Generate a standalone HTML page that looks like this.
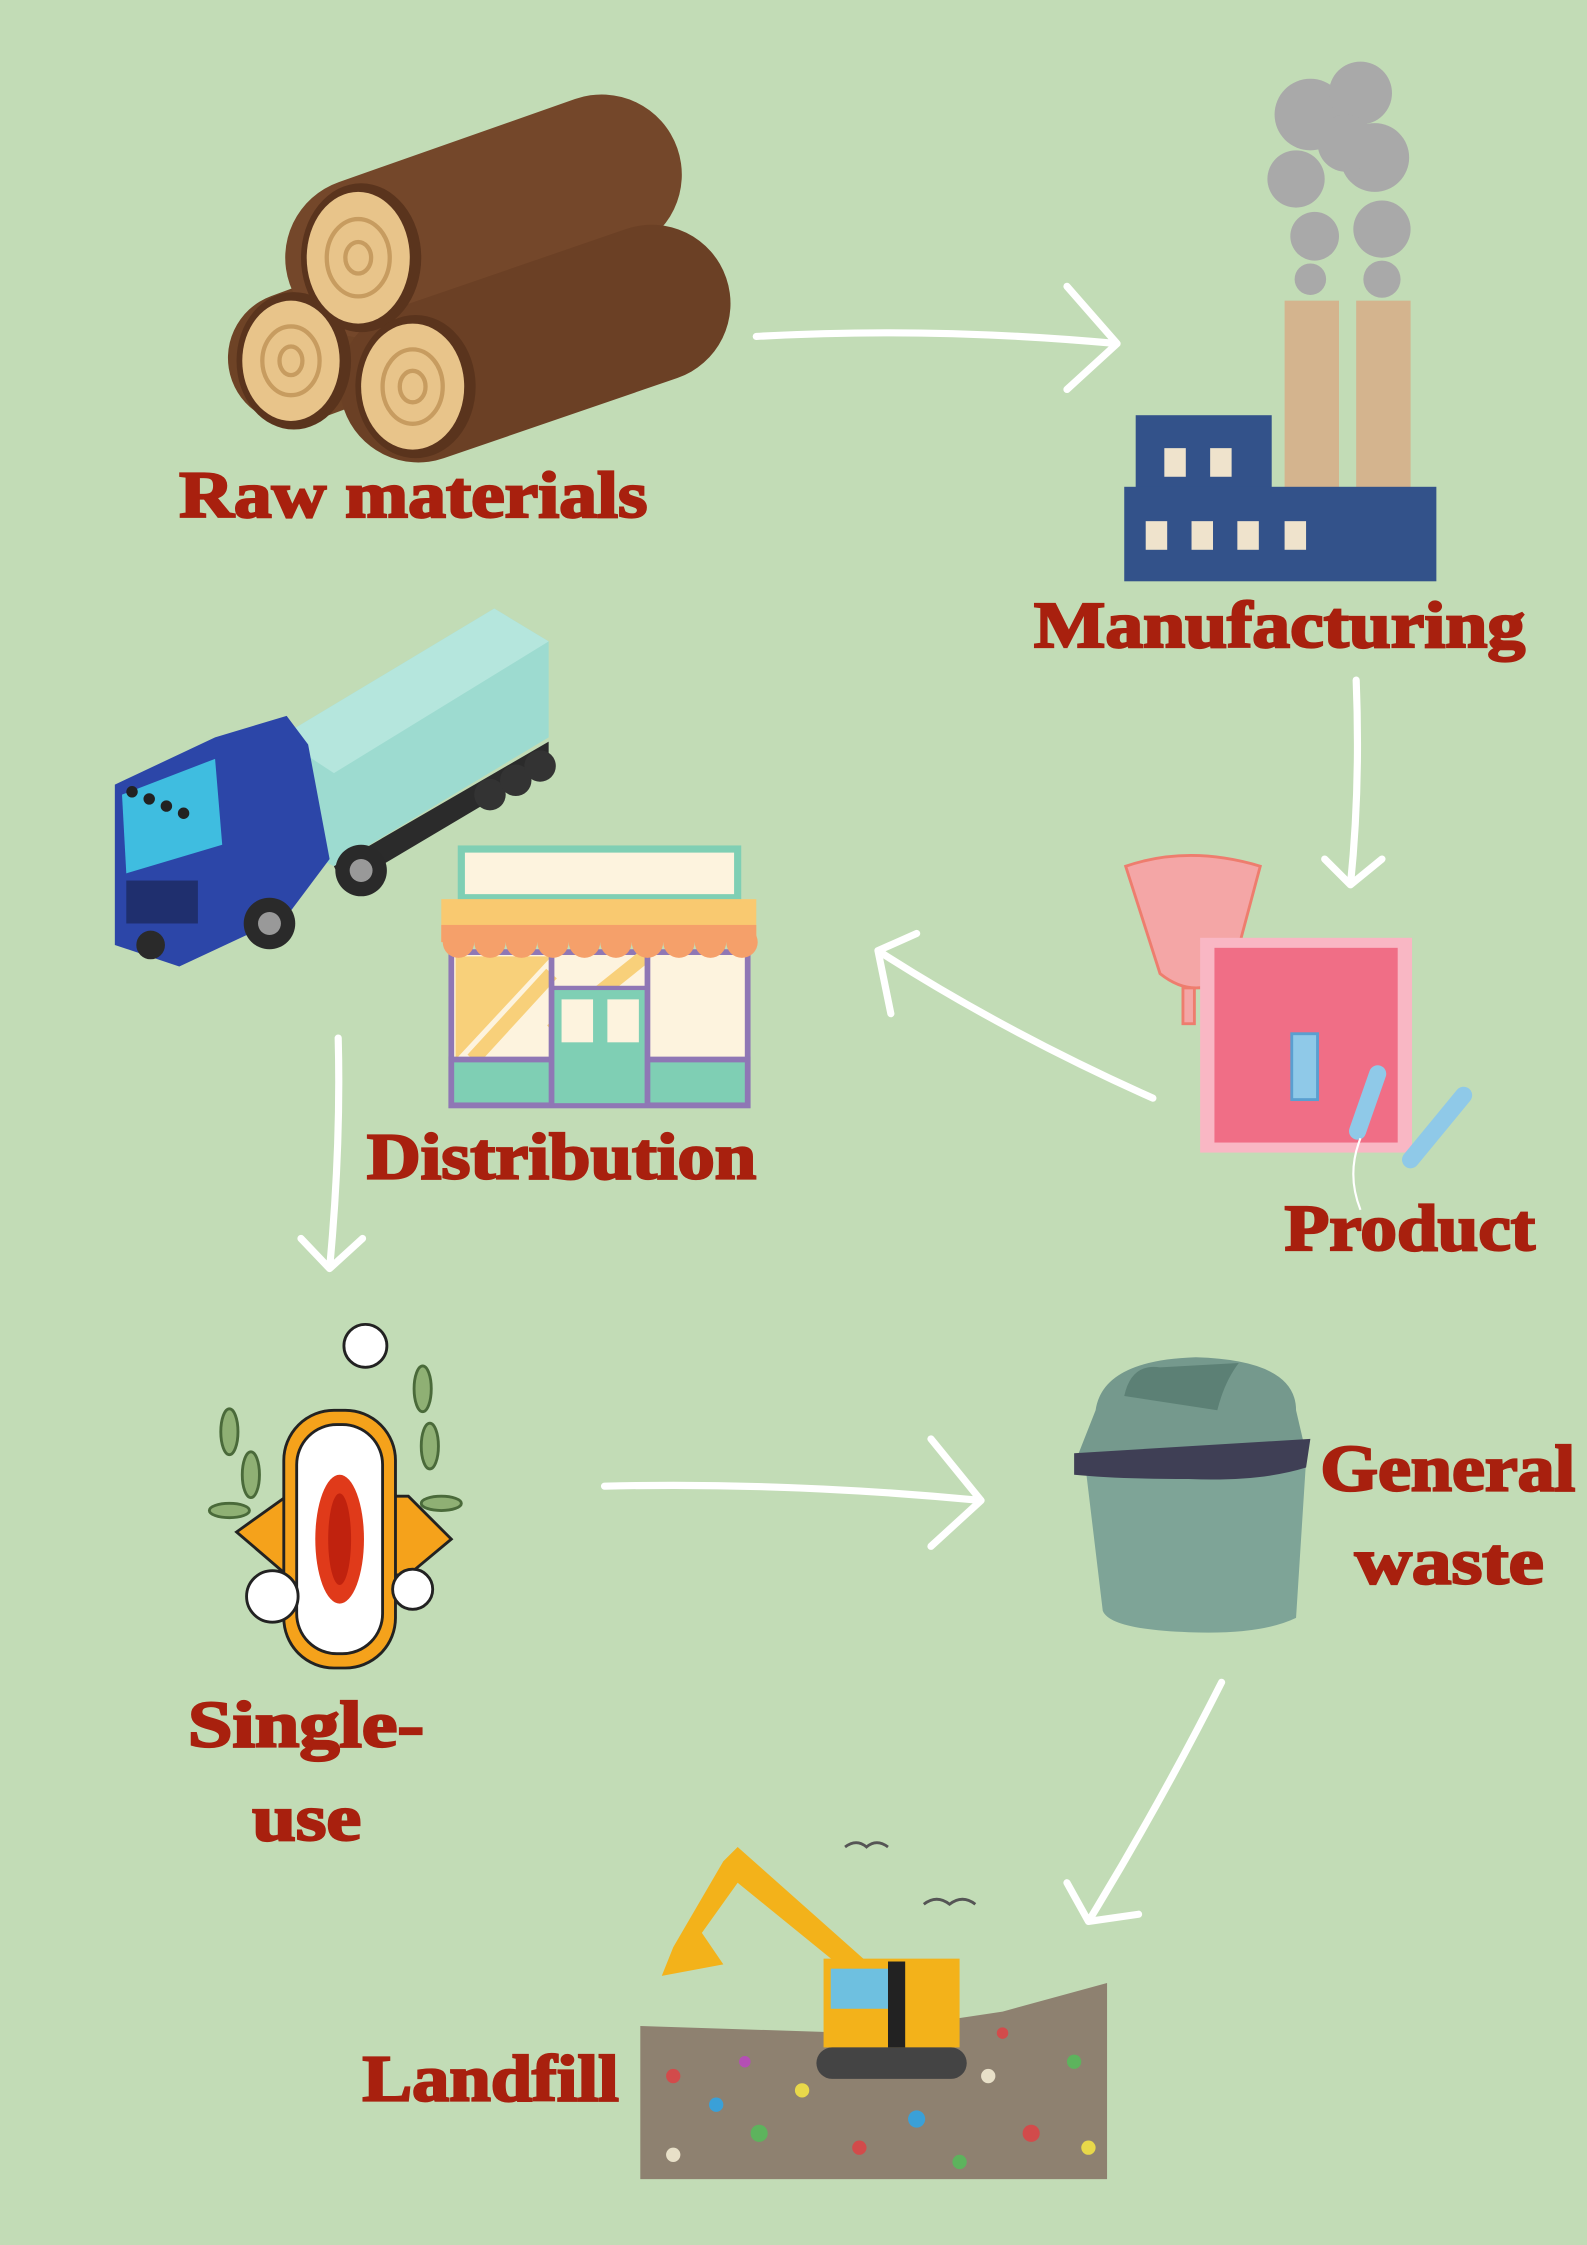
<!DOCTYPE html>
<html><head><meta charset="utf-8"><style>
html,body{margin:0;padding:0;background:#c2dcb6;}
svg{display:block;}
.t{font-family:"Liberation Serif",serif;font-weight:bold;fill:#a8200e;stroke:#a8200e;stroke-width:1.6;font-size:46px;}
.a{fill:none;stroke:#fff;stroke-width:5;stroke-linecap:round;stroke-linejoin:round;}
</style></head><body>
<svg width="1587" height="2245" viewBox="0 0 1108 1568" xmlns="http://www.w3.org/2000/svg">
<rect width="1108" height="1568" fill="#c2dcb6"/>

<!-- Logs -->
<g>
 <line x1="205" y1="250" x2="300" y2="215" stroke="#6e4326" stroke-width="92" stroke-linecap="round"/>
 <line x1="255" y1="180" x2="420" y2="122" stroke="#74472a" stroke-width="112" stroke-linecap="round"/>
 <line x1="292" y1="268" x2="455" y2="212" stroke="#6b4025" stroke-width="110" stroke-linecap="round"/>
 <ellipse cx="205" cy="252" rx="40" ry="48" fill="#5a341d"/>
 <ellipse cx="203" cy="252" rx="34" ry="42" fill="#e8c48a"/>
 <ellipse cx="252" cy="180" rx="42" ry="52" fill="#5a341d"/>
 <ellipse cx="250" cy="180" rx="36" ry="46" fill="#e8c48a"/>
 <ellipse cx="290" cy="270" rx="42" ry="50" fill="#5a341d"/>
 <ellipse cx="288" cy="270" rx="36" ry="44" fill="#e8c48a"/>
 <g fill="none" stroke="#c79c60" stroke-width="3">
  <ellipse cx="203" cy="252" rx="20" ry="24"/><ellipse cx="250" cy="180" rx="22" ry="27"/><ellipse cx="288" cy="270" rx="21" ry="26"/>
  <ellipse cx="203" cy="252" rx="8" ry="10"/><ellipse cx="250" cy="180" rx="9" ry="11"/><ellipse cx="288" cy="270" rx="9" ry="11"/>
 </g>
</g>
<text class="t" x="125" y="361" textLength="327" lengthAdjust="spacingAndGlyphs">Raw materials</text>

<!-- Factory -->
<g fill="#a9a9a9">
 <circle cx="915" cy="80" r="25"/><circle cx="950" cy="65" r="22"/><circle cx="905" cy="125" r="20"/><circle cx="960" cy="110" r="24"/>
 <circle cx="918" cy="165" r="17"/><circle cx="965" cy="160" r="20"/><circle cx="915" cy="195" r="11"/><circle cx="965" cy="195" r="13"/>
 <circle cx="940" cy="100" r="20"/>
</g>
<rect x="897" y="210" width="38" height="132" fill="#d4b48e"/>
<rect x="947" y="210" width="38" height="132" fill="#d4b48e"/>
<rect x="793" y="290" width="95" height="60" fill="#33528a"/>
<rect x="785" y="340" width="218" height="66" fill="#33528a"/>
<g fill="#efe3cc">
 <rect x="813" y="313" width="15" height="20"/><rect x="845" y="313" width="15" height="20"/>
 <rect x="800" y="364" width="15" height="20"/><rect x="832" y="364" width="15" height="20"/><rect x="864" y="364" width="15" height="20"/><rect x="897" y="364" width="15" height="20"/>
</g>
<text class="t" x="722" y="452" textLength="343" lengthAdjust="spacingAndGlyphs">Manufacturing</text>

<!-- Truck -->
<polygon points="195,515 345,425 383,448 383,515 233,605 195,585" fill="#9ddbd0"/>
<polygon points="195,515 345,425 383,448 233,540" fill="#b5e6dd"/>
<polygon points="233,605 383,518 383,535 240,620" fill="#2b2b2b"/>
<circle cx="342" cy="555" r="11" fill="#333"/><circle cx="360" cy="545" r="11" fill="#333"/><circle cx="377" cy="535" r="11" fill="#333"/>
<polygon points="80,548 150,515 200,500 215,520 230,600 200,640 125,675 80,660" fill="#2c46a8"/>
<polygon points="85,555 150,530 155,590 88,610" fill="#3fbde0"/>
<rect x="88" y="615" width="50" height="30" fill="#1f2f6e"/>
<circle cx="188" cy="645" r="18" fill="#2a2a2a"/><circle cx="188" cy="645" r="8" fill="#999"/>
<circle cx="252" cy="608" r="18" fill="#2a2a2a"/><circle cx="252" cy="608" r="8" fill="#999"/>
<circle cx="105" cy="660" r="10" fill="#2a2a2a"/>
<g fill="#222"><circle cx="92" cy="553" r="4"/><circle cx="104" cy="558" r="4"/><circle cx="116" cy="563" r="4"/><circle cx="128" cy="568" r="4"/></g>

<!-- Shop -->
<rect x="322" y="593" width="193" height="34" fill="#fdf3de" stroke="#7fcfb4" stroke-width="5"/>
<rect x="315" y="665" width="207" height="107" fill="#fdf3de" stroke="#8f77b5" stroke-width="4"/>
<polygon points="318,668 385,668 318,740" fill="#f8d07a"/>
<line x1="330" y1="740" x2="385" y2="680" stroke="#f8d07a" stroke-width="10"/>
<line x1="385" y1="720" x2="450" y2="668" stroke="#f8d07a" stroke-width="10"/>
<rect x="315" y="740" width="207" height="32" fill="#7fcfb4" stroke="#8f77b5" stroke-width="4"/>
<rect x="385" y="690" width="67" height="82" fill="#7fcfb4" stroke="#8f77b5" stroke-width="3"/>
<rect x="392" y="698" width="22" height="30" fill="#fdf3de"/><rect x="424" y="698" width="22" height="30" fill="#fdf3de"/>
<line x1="385" y1="665" x2="385" y2="772" stroke="#8f77b5" stroke-width="4"/><line x1="452" y1="665" x2="452" y2="772" stroke="#8f77b5" stroke-width="4"/>
<rect x="308" y="628" width="220" height="30" fill="#f9c970"/>
<g fill="#f5a06a">
 <circle cx="320" cy="658" r="11"/><circle cx="342" cy="658" r="11"/><circle cx="364" cy="658" r="11"/><circle cx="386" cy="658" r="11"/><circle cx="408" cy="658" r="11"/><circle cx="430" cy="658" r="11"/><circle cx="452" cy="658" r="11"/><circle cx="474" cy="658" r="11"/><circle cx="496" cy="658" r="11"/><circle cx="518" cy="658" r="11"/>
</g>
<rect x="308" y="646" width="220" height="12" fill="#f5a06a"/>
<text class="t" x="256" y="823" textLength="272" lengthAdjust="spacingAndGlyphs">Distribution</text>

<!-- Product -->
<path d="M786,605 Q830,590 880,605 L860,680 Q835,700 810,680 Z" fill="#f4a6a6" stroke="#ee7d6e" stroke-width="2"/>
<rect x="826" y="690" width="8" height="25" fill="#f4a6a6" stroke="#ee7d6e" stroke-width="2"/>
<rect x="838" y="655" width="148" height="150" fill="#f9b7c4"/>
<rect x="848" y="662" width="128" height="136" fill="#f06e86"/>
<rect x="902" y="722" width="18" height="46" fill="#8fc9e8" stroke="#5a9fd0" stroke-width="2"/>
<line x1="948" y1="790" x2="962" y2="750" stroke="#8fc9e8" stroke-width="12" stroke-linecap="round"/>
<line x1="985" y1="810" x2="1022" y2="765" stroke="#8fc9e8" stroke-width="12" stroke-linecap="round"/>
<path d="M950,795 Q940,820 950,845" fill="none" stroke="#fff" stroke-width="1.5"/>
<text class="t" x="897" y="873" textLength="175" lengthAdjust="spacingAndGlyphs">Product</text>

<!-- Single-use -->
<g stroke="#4a6a3a" stroke-width="2" fill="#8fb074">
 <ellipse cx="160" cy="1000" rx="6" ry="16"/><ellipse cx="175" cy="1030" rx="6" ry="16"/><ellipse cx="295" cy="970" rx="6" ry="16"/>
 <ellipse cx="300" cy="1010" rx="6" ry="16"/><ellipse cx="308" cy="1050" rx="14" ry="5"/><ellipse cx="160" cy="1055" rx="14" ry="5"/>
</g>
<path d="M165,1070 L200,1045 L285,1045 L315,1075 L285,1100 L200,1100 Z" fill="#f5a21b" stroke="#222" stroke-width="2"/>
<rect x="198" y="985" width="78" height="180" rx="35" fill="#f5a21b" stroke="#222" stroke-width="2"/>
<rect x="207" y="995" width="60" height="160" rx="28" fill="#fff" stroke="#222" stroke-width="2"/>
<ellipse cx="237" cy="1075" rx="17" ry="45" fill="#e03a1a"/>
<ellipse cx="237" cy="1075" rx="8" ry="32" fill="#c0220e"/>
<g fill="#fff" stroke="#222" stroke-width="2">
 <circle cx="255" cy="940" r="15"/><circle cx="190" cy="1115" r="18"/><circle cx="288" cy="1110" r="14"/>
</g>
<text class="t" x="131" y="1220" textLength="165" lengthAdjust="spacingAndGlyphs">Single-</text>
<text class="t" x="176" y="1285" textLength="76" lengthAdjust="spacingAndGlyphs">use</text>

<!-- Trash bin -->
<path d="M758,1025 L912,1020 L905,1130 Q880,1142 830,1140 Q775,1138 770,1125 Z" fill="#7ea497"/>
<path d="M765,985 Q770,950 835,948 Q905,950 905,985 L912,1015 L752,1018 Z" fill="#75998d"/>
<path d="M785,975 Q790,952 810,955 L865,952 Q855,965 850,985 Z" fill="#5c8075"/>
<path d="M750,1015 L915,1005 L912,1025 Q880,1035 830,1033 Q780,1033 750,1030 Z" fill="#3f3f55"/>
<text class="t" x="922" y="1041" textLength="178" lengthAdjust="spacingAndGlyphs">General</text>
<text class="t" x="946" y="1106" textLength="132" lengthAdjust="spacingAndGlyphs">waste</text>

<!-- Landfill -->
<path d="M447,1415 L600,1420 L700,1405 L773,1385 L773,1522 L447,1522 Z" fill="#8e8170"/>
<g>
 <circle cx="470" cy="1450" r="5" fill="#d24b4b"/><circle cx="500" cy="1470" r="5" fill="#3aa0d8"/><circle cx="530" cy="1490" r="6" fill="#5db35d"/>
 <circle cx="560" cy="1460" r="5" fill="#e8d84a"/><circle cx="600" cy="1500" r="5" fill="#d24b4b"/><circle cx="640" cy="1480" r="6" fill="#3aa0d8"/>
 <circle cx="690" cy="1450" r="5" fill="#e8e0c8"/><circle cx="720" cy="1490" r="6" fill="#d24b4b"/><circle cx="750" cy="1440" r="5" fill="#5db35d"/>
 <circle cx="760" cy="1500" r="5" fill="#e8d84a"/><circle cx="470" cy="1505" r="5" fill="#e8e0c8"/><circle cx="670" cy="1510" r="5" fill="#5db35d"/>
 <circle cx="520" cy="1440" r="4" fill="#b44fb4"/><circle cx="700" cy="1420" r="4" fill="#d24b4b"/>
</g>
<path d="M515,1290 L605,1370 L595,1380 L515,1315 L490,1350 L505,1372 L462,1380 L470,1360 L505,1300 Z" fill="#f3b21a"/>
<rect x="575" y="1368" width="95" height="62" fill="#f3b21a"/>
<rect x="580" y="1375" width="40" height="28" fill="#6ec0e0"/>
<rect x="620" y="1370" width="12" height="60" fill="#222"/>
<rect x="570" y="1430" width="105" height="22" rx="11" fill="#444"/>
<g fill="none" stroke="#555" stroke-width="2"><path d="M590,1290 q8,-6 15,0 q7,-6 15,0"/><path d="M645,1330 q9,-7 18,0 q9,-7 18,0"/></g>
<text class="t" x="253" y="1467" textLength="179" lengthAdjust="spacingAndGlyphs">Landfill</text>

<!-- Arrows -->
<path class="a" d="M528,235 Q650,228 780,240 M745,200 L780,240 L745,272"/>
<path class="a" d="M947,475 Q950,550 943,618 M925,600 L943,618 L965,600"/>
<path class="a" d="M805,767 Q700,720 613,664 M640,652 L613,664 L622,708"/>
<path class="a" d="M236,725 Q238,800 230,886 M210,865 L230,886 L253,865"/>
<path class="a" d="M422,1038 Q550,1035 685,1048 M650,1005 L685,1048 L650,1080"/>
<path class="a" d="M853,1175 Q810,1260 760,1342 M745,1315 L760,1342 L795,1337"/>
</svg>
</body></html>
